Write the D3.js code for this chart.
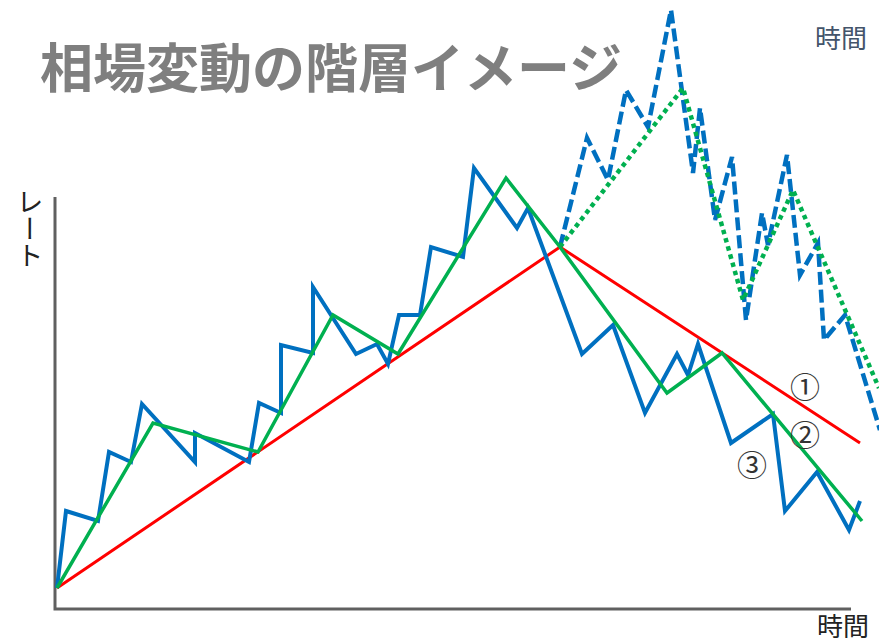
<!DOCTYPE html>
<html><head><meta charset="utf-8">
<script src="https://cdn.jsdelivr.net/npm/d3@7"></script>
<style>html,body{margin:0;padding:0;background:#fff;}svg{display:block;}</style>
</head><body>
<script>
// time (x) and rate (y) in chart units
const redT = [2, 505, 805];
const redV = [21, 362, 166];

const greenT = [2, 98, 203, 278, 343, 451, 505, 612, 667, 807];
const greenV = [21, 186, 157, 294, 255, 431, 362, 216, 256, 88];

const blueT = [2, 11, 43, 54, 76, 87, 140, 140, 194, 204, 226, 226, 258, 258, 301, 322, 333, 344, 365, 376, 408, 419, 462, 473, 527, 558, 590, 622, 633, 643, 676, 718, 730, 762, 794, 805];
const blueV = [21, 98, 88, 157, 147, 205, 147, 176, 147, 206, 196, 264, 256, 322, 255, 265, 245, 294, 294, 362, 352, 441, 381, 401, 255, 284, 196, 255, 234, 265, 166, 195, 98, 137, 79, 108];

const dashT = [505, 532, 553, 571, 593, 616, 638, 645, 660, 677, 691, 707, 713, 732, 745, 763, 769, 790, 825];
const dashV = [362, 471, 429, 519, 482, 599, 436, 501, 389, 452, 289, 396, 364, 454, 334, 366, 269, 294, 179];

const dotT = [505, 628, 688, 738, 824];
const dotV = [362, 521, 309, 419, 221];

const labels = ["①", "②", "③"];
const labelT = [750, 750, 697];
const labelV = [224, 176, 146];

const axisTopV = 412, axisRightT = 796;

const W = 879, H = 643;
const svg = d3.select("body").append("svg").attr("width", W).attr("height", H);
const x = d3.scaleLinear().domain([0, 800]).range([55, 855]);
const y = d3.scaleLinear().domain([0, 600]).range([609, 9]);

const zip = (T, V) => T.map((t, i) => [t, V[i]]);
const line = d3.line().x(d => x(d[0])).y(d => y(d[1]));

// title
svg.append("text").attr("x", 40).attr("y", 88)
  .attr("font-family", "'Noto Sans CJK JP', sans-serif").attr("font-weight", "bold")
  .attr("font-size", 53).attr("fill", "#7f7f7f").text("相場変動の階層イメージ");

svg.append("text").attr("x", 815).attr("y", 48)
  .attr("font-family", "'Noto Sans CJK JP', sans-serif")
  .attr("font-size", 26).attr("fill", "#44546a").text("時間");

// axes
svg.append("path")
  .attr("d", `M${x(0)},${y(axisTopV)}L${x(0)},${y(0)}L${x(axisRightT)},${y(0)}`)
  .attr("fill", "none").attr("stroke", "#606060").attr("stroke-width", 3);

svg.append("text").attr("x", 30).attr("y", 188)
  .attr("font-family", "'Noto Sans CJK JP', sans-serif")
  .attr("font-size", 27).attr("fill", "#222")
  .style("writing-mode", "vertical-rl").text("レート");

svg.append("text").attr("x", 817).attr("y", 636)
  .attr("font-family", "'Noto Sans CJK JP', sans-serif")
  .attr("font-size", 26).attr("fill", "#222").text("時間");

// lines
svg.append("path").datum(zip(dashT, dashV)).attr("d", line)
  .attr("fill", "none").attr("stroke", "#0070c0").attr("stroke-width", 4.5)
  .attr("stroke-dasharray", "13,5").attr("stroke-linejoin", "miter");

svg.append("path").datum(zip(dotT, dotV)).attr("d", line)
  .attr("fill", "none").attr("stroke", "#00b050").attr("stroke-width", 4.5)
  .attr("stroke-dasharray", "4.5,4");

svg.append("path").datum(zip(redT, redV)).attr("d", line)
  .attr("fill", "none").attr("stroke", "#ff0000").attr("stroke-width", 3);

svg.append("path").datum(zip(blueT, blueV)).attr("d", line)
  .attr("fill", "none").attr("stroke", "#0070c0").attr("stroke-width", 4);

svg.append("path").datum(zip(greenT, greenV)).attr("d", line)
  .attr("fill", "none").attr("stroke", "#00b050").attr("stroke-width", 3.5);

svg.selectAll("text.num").data(labels).enter().append("text").attr("class", "num")
  .attr("x", (d, i) => x(labelT[i])).attr("y", (d, i) => y(labelV[i]))
  .attr("text-anchor", "middle").attr("dominant-baseline", "central")
  .attr("font-family", "'Noto Sans CJK JP', sans-serif")
  .attr("font-size", 30).attr("fill", "#333").text(d => d);
</script>
</body></html>
